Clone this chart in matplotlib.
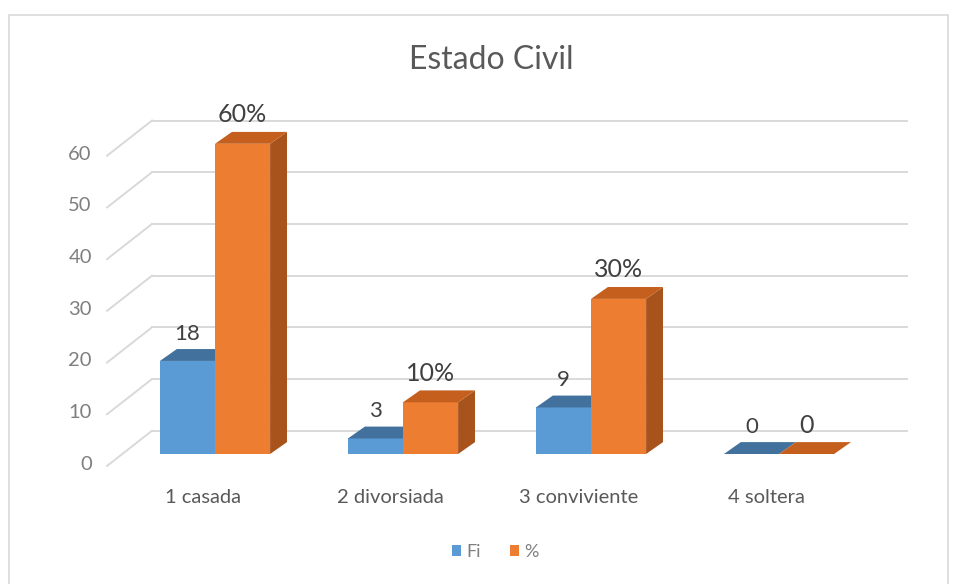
import numpy as np
import matplotlib.pyplot as plt
from matplotlib.patches import Polygon, Rectangle, Patch

plt.rcParams['font.family'] = ['Lato', 'DejaVu Sans']

# data
categorias = ['1 casada', '2 divorsiada', '3 conviviente', '4 soltera']
fi = [18, 3, 9, 0]
pct = [60, 10, 30, 0]
etiq_fi = ['18', '3', '9', '0']
etiq_pct = ['60%', '10%', '30%', '0']
yticks = [0, 10, 20, 30, 40, 50, 60]

# estilo / geometria (unidades de datos)
w = 0.293          # ancho de cada barra
ddx, ddy = 0.09, 2.3   # profundidad de las barras
col_fi = ('#5B9BD5', '#41719C', '#3A6690')
col_pct = ('#ED7D31', '#C55F1E', '#A9531C')
grid_c = '#D9D9D9'

fig = plt.figure(figsize=(9.58, 5.84), dpi=100)
ax = fig.add_axes([0, 0, 1, 1])
ax.set_xlim(-215 / 188, 743 / 188)
ax.set_ylim((454 - 584) / 5.17, 454 / 5.17)
ax.axis('off')

# borde del grafico
fig.patches.append(Rectangle((9 / 958, -0.02), 0.99 - 9 / 958, 1 - 15 / 584 + 0.02,
                             transform=fig.transFigure, fill=False,
                             edgecolor='#D9D9D9', lw=1.2))

# paredes: lineas de division
x_front, x_back, x_end = -0.574, -0.335, 3.681
for v in yticks:
    ax.plot([x_back, x_end], [v + 4.5, v + 4.5], color=grid_c, lw=1.4, zorder=1)
    ax.plot([x_front, x_back], [v - 2.3, v + 4.5], color=grid_c, lw=1.4, zorder=1)
    ax.text(-0.655, v - 2.0, str(v), ha='right', va='center', fontsize=14.5,
            color='#7F7F7F')


def barra(x0, h, cols):
    front, top, side = cols
    ax.add_patch(Polygon([(x0, 0), (x0 + w, 0), (x0 + w, h), (x0, h)],
                         closed=True, facecolor=front, edgecolor='none', zorder=3))
    ax.add_patch(Polygon([(x0 + w, 0), (x0 + w + ddx, ddy), (x0 + w + ddx, h + ddy),
                          (x0 + w, h)], closed=True, facecolor=side,
                         edgecolor='none', zorder=3))
    ax.add_patch(Polygon([(x0, h), (x0 + w, h), (x0 + w + ddx, h + ddy), (x0 + ddx, h + ddy)],
                         closed=True, facecolor=top, edgecolor='none', zorder=3))


for i, cat in enumerate(categorias):
    barra(i - w, fi[i], col_fi)
    barra(i, pct[i], col_pct)
    ax.text(i - w / 2, fi[i] + 5.3, etiq_fi[i], ha='center', va='center',
            fontsize=16, color='#404040', zorder=4)
    ax.text(i + w / 2, pct[i] + 5.6, etiq_pct[i], ha='center', va='center',
            fontsize=18, color='#404040', zorder=4)
    ax.text(i - 0.065, -8.4, cat, ha='center', va='center', fontsize=14.5,
            color='#595959')

fig.text(491 / 958, 1 - 60 / 584, 'Estado Civil', ha='center', va='center',
         fontsize=23, color='#595959')

handles = [Patch(facecolor=col_fi[0], label='Fi'), Patch(facecolor=col_pct[0], label='%')]
fig.legend(handles=handles, loc='center', bbox_to_anchor=(495 / 958, 1 - 552 / 584),
           ncol=2, frameon=False, fontsize=13, handlelength=0.5, handleheight=0.5,
           handletextpad=0.3, columnspacing=1.6, labelcolor='#7F7F7F')

fig.savefig('out.png', dpi=100)
